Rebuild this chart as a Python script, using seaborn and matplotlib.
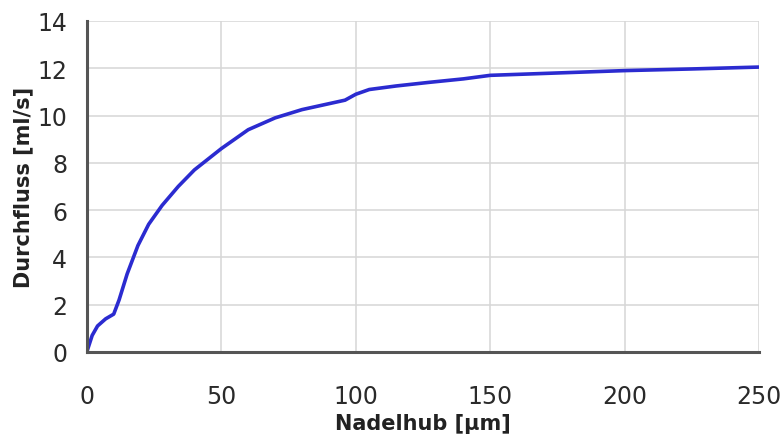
import matplotlib
matplotlib.use("Agg")
import matplotlib.pyplot as plt
import seaborn as sns
import pandas as pd

# Data
nadelhub = [0, 2, 4, 7, 10, 12, 15, 19, 23, 28, 34, 40, 50, 60, 70, 80, 90, 96,
            100, 105, 115, 127, 140, 150, 175, 200, 225, 250]
durchfluss = [0, 0.7, 1.1, 1.4, 1.6, 2.2, 3.3, 4.5, 5.4, 6.2, 7.0, 7.7, 8.6, 9.4,
              9.9, 10.25, 10.5, 10.65, 10.9, 11.1, 11.25, 11.4, 11.55, 11.7, 11.8,
              11.9, 11.97, 12.05]
x_ticks = [0, 50, 100, 150, 200, 250]
y_ticks = [0, 2, 4, 6, 8, 10, 12, 14]
x_label = "Nadelhub [µm]"
y_label = "Durchfluss [ml/s]"

df = pd.DataFrame({"x": nadelhub, "y": durchfluss})

sns.set_style("white")
plt.rcParams["font.family"] = ["DejaVu Sans"]

fig = plt.figure(figsize=(7.82, 4.39), dpi=100)
ax = fig.add_axes([0.111, 0.196, 0.860, 0.754])

sns.lineplot(data=df, x="x", y="y", ax=ax, color="#2b2bd0", linewidth=2.6)

ax.set_xlim(0, 250)
ax.set_ylim(0, 14)
ax.set_xticks(x_ticks)
ax.set_yticks(y_ticks)
ax.grid(True, color="#d6d6d6", linewidth=1.1)
ax.set_axisbelow(True)

for s in ["top", "right"]:
    ax.spines[s].set_visible(False)
for s in ["left", "bottom"]:
    ax.spines[s].set_color("#555555")
    ax.spines[s].set_linewidth(2.2)

ax.tick_params(axis="x", direction="out", length=5, width=1.5, color="#555555",
               pad=18, labelsize=17, labelcolor="#2a2a2a")
ax.tick_params(axis="y", direction="out", length=6, width=1.5, color="#555555",
               pad=8, labelsize=17, labelcolor="#2a2a2a")

ax.set_xlabel(x_label, fontsize=15, fontweight="bold", color="#222222", labelpad=4)
ax.set_ylabel(y_label, fontsize=15, fontweight="bold", color="#222222", labelpad=3)

fig.savefig("out.png", dpi=100)
